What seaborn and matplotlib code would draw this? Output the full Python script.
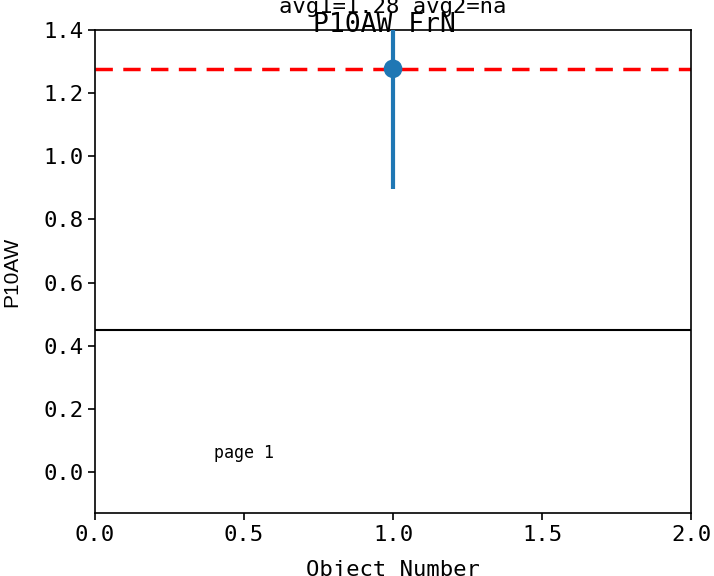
import matplotlib
matplotlib.use("Agg")
import matplotlib.pyplot as plt
import seaborn as sns

# --- data ---
obj_num = [1]
p10aw = [1.277]
p10aw_err = [0.38]
avg1 = 1.277
cut_line = 0.45
title = "P10AW FrN"
subtitle = "avg1=1.28 avg2=na"

sns.set_style("ticks")
plt.rcParams["font.family"] = ["DejaVu Sans Mono", "Noto Sans CJK SC"]
plt.rcParams.update({"text.color": "black", "axes.labelcolor": "black",
                     "xtick.color": "black", "ytick.color": "black"})

fig = plt.figure(figsize=(7.14, 5.76), dpi=100)
ax = fig.add_axes([0.133, 0.109, 0.835, 0.839])

ax.errorbar(obj_num, p10aw, yerr=p10aw_err, fmt="none", ecolor="#1f77b4", elinewidth=3, zorder=3)
sns.scatterplot(x=obj_num, y=p10aw, ax=ax, color="#1f77b4", s=180, edgecolor="none", zorder=4)

ax.axhline(avg1, color="red", linestyle="--", linewidth=2.5, dashes=(5, 3))
ax.axhline(cut_line, color="black", linewidth=1.5)

ax.set_xlim(0, 2)
ax.set_ylim(-0.13, 1.4)
ax.set_xticks([0.0, 0.5, 1.0, 1.5, 2.0])
ax.set_yticks([0.0, 0.2, 0.4, 0.6, 0.8, 1.0, 1.2, 1.4])
ax.tick_params(labelsize=16, length=5, width=1.2, color="black")
for s in ax.spines.values():
    s.set_color("black")
    s.set_linewidth(1.2)

ax.set_xlabel("Object Number", fontsize=16, labelpad=11)
ax.set_ylabel("P10AW", fontsize=15, family="Liberation Sans", labelpad=16)
ax.set_title(title, fontsize=19, pad=0, x=0.485, y=0.995)
fig.text(0.55, 0.977, subtitle, fontsize=16, ha="center", va="baseline")
ax.text(0.2, 0.115, "page 1", transform=ax.transAxes, fontsize=12)

fig.savefig("out.png", dpi=100)
